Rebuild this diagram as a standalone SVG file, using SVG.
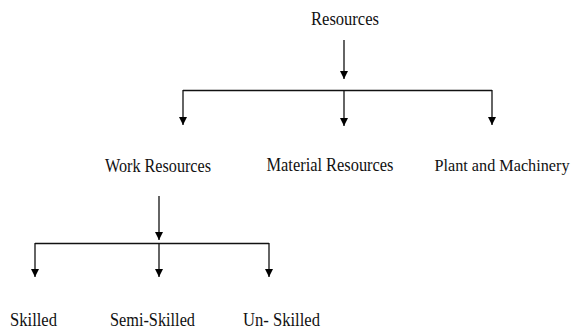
<svg xmlns="http://www.w3.org/2000/svg" width="574" height="333" viewBox="0 0 574 333">
<defs>
<marker id="ah" viewBox="0 0 10 10" refX="10" refY="5" markerWidth="10" markerHeight="8" markerUnits="userSpaceOnUse" orient="auto">
<path d="M0,0 L10,5 L0,10 Z" fill="#000"/>
</marker>
<style>
text{font-family:"Liberation Serif","Times New Roman",serif;font-size:18.5px;fill:#111;text-anchor:middle}
.c{stroke:#111;stroke-width:1.3;fill:none}
</style>
</defs>
<rect width="574" height="333" fill="#fff"/>
<g id="connectors">
<line class="c" x1="344" y1="40" x2="344" y2="79" marker-end="url(#ah)"/>
<polyline class="c" points="183,90.5 492,90.5"/>
<line class="c" x1="183" y1="90" x2="183" y2="125" marker-end="url(#ah)"/>
<line class="c" x1="344" y1="90" x2="344" y2="126" marker-end="url(#ah)"/>
<line class="c" x1="492" y1="90" x2="492" y2="125" marker-end="url(#ah)"/>
<line class="c" x1="159" y1="196" x2="159" y2="240" marker-end="url(#ah)"/>
<polyline class="c" points="35,243.5 269,243.5"/>
<line class="c" x1="35" y1="243" x2="35" y2="277" marker-end="url(#ah)"/>
<line class="c" x1="159" y1="243" x2="159" y2="277" marker-end="url(#ah)"/>
<line class="c" x1="269" y1="243" x2="269" y2="277" marker-end="url(#ah)"/>
</g>
<g id="resources"><text x="345" y="24.5" textLength="68" lengthAdjust="spacingAndGlyphs">Resources</text></g>
<g id="work"><text x="158" y="171.5" textLength="106" lengthAdjust="spacingAndGlyphs">Work Resources</text></g>
<g id="material"><text x="330" y="171" textLength="127" lengthAdjust="spacingAndGlyphs">Material Resources</text></g>
<g id="plant"><text x="502" y="170.5" style="font-size:16.5px" textLength="135" lengthAdjust="spacingAndGlyphs">Plant and Machinery</text></g>
<g id="skilled"><text x="33.5" y="325.5" textLength="47" lengthAdjust="spacingAndGlyphs">Skilled</text></g>
<g id="semi"><text x="152.5" y="325.5" textLength="85" lengthAdjust="spacingAndGlyphs">Semi-Skilled</text></g>
<g id="unskilled"><text x="281.5" y="326" textLength="77" lengthAdjust="spacingAndGlyphs">Un- Skilled</text></g>
</svg>
